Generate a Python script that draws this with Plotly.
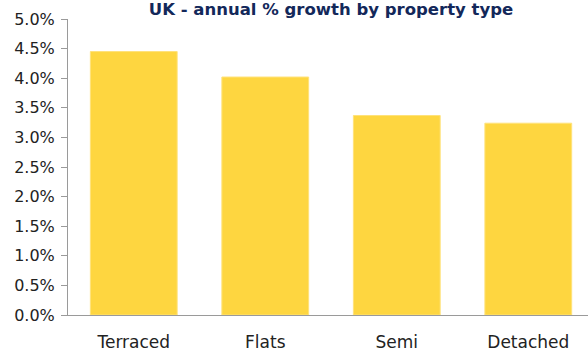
import plotly.graph_objects as go

categories = ["Terraced", "Flats", "Semi", "Detached"]
growth_pct = [4.45, 4.02, 3.37, 3.24]
y_ticks = [0.0, 0.5, 1.0, 1.5, 2.0, 2.5, 3.0, 3.5, 4.0, 4.5, 5.0]
y_tick_labels = [f"{v:.1f}%" for v in y_ticks]
title_text = "UK - annual % growth by property type"

fig = go.Figure(
    go.Bar(
        x=categories,
        y=growth_pct,
        marker=dict(color="#FED640", line=dict(color="#FFE27A", width=1)),
        hoverinfo="skip",
    )
)

fig.update_layout(
    width=588,
    height=352,
    margin=dict(l=68, r=0, t=19, b=33, pad=0),
    paper_bgcolor="white",
    plot_bgcolor="white",
    bargap=0.34,
    showlegend=False,
    font=dict(family="DejaVu Sans, sans-serif", color="#222222", size=16),
    title=dict(
        text=title_text,
        x=331 / 588,
        xanchor="center",
        xref="container",
        yref="container",
        y=1 - 3 / 352,
        yanchor="top",
        pad=dict(t=0, b=0, l=0, r=0),
        font=dict(family="DejaVu Sans, sans-serif", size=16.5, color="#13285A", weight="bold"),
    ),
)

fig.update_xaxes(
    type="category",
    range=[-0.5, 3.454],
    showline=True,
    linecolor="#9A9A9A",
    linewidth=1,
    ticks="",
    showgrid=False,
    zeroline=False,
    ticklabelstandoff=12,
    tickfont=dict(size=17, color="#222222"),
)

fig.update_yaxes(
    range=[0, 5],
    tickvals=y_ticks,
    ticktext=y_tick_labels,
    showline=True,
    linecolor="#9A9A9A",
    linewidth=1,
    ticks="outside",
    ticklen=6,
    tickcolor="#9A9A9A",
    showgrid=False,
    zeroline=False,
    ticklabelstandoff=3,
    tickfont=dict(size=16, color="#222222"),
)

fig.write_html("out.html")
